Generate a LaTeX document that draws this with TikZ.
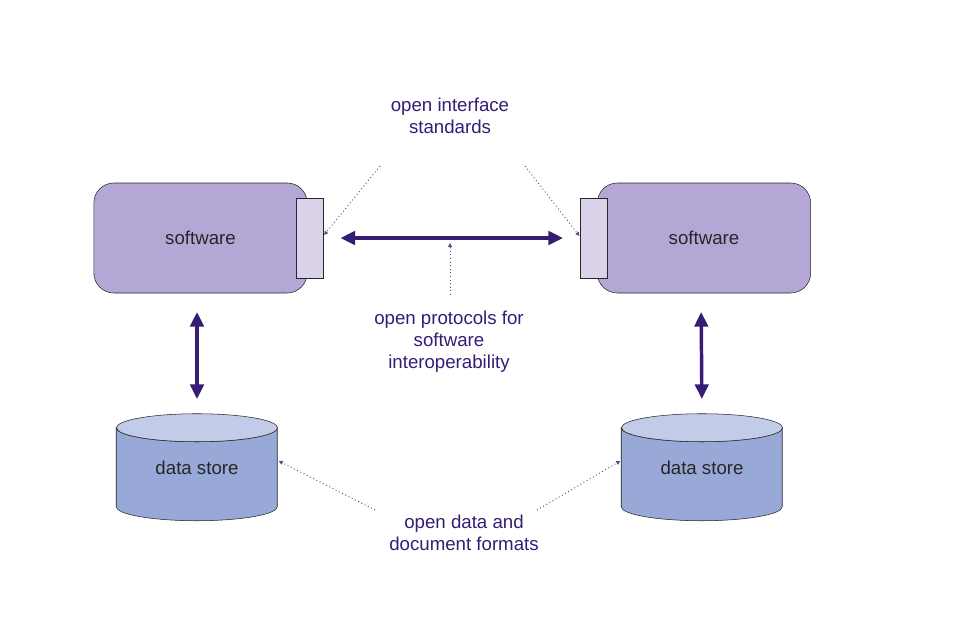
\documentclass[tikz,border=0pt]{standalone}
\usepackage{fontspec}
\setmainfont{Liberation Sans}
\usepackage{tikz}
\usetikzlibrary{shapes,arrows.meta,calc}
\definecolor{softfill}{HTML}{B4A7D6}
\definecolor{portfill}{HTML}{D9D2E9}
\definecolor{storebody}{HTML}{98A9D7}
\definecolor{storetop}{HTML}{C2CBE8}
\definecolor{linkcol}{HTML}{351C75}
\definecolor{notecol}{HTML}{5A4C8C}

\begin{document}
\begin{tikzpicture}[x=0.75pt,y=-0.75pt,
		every node/.style={font=\fontsize{14}{16.5}\selectfont},
		software/.style={draw=black!85,fill=softfill,rounded corners=15pt,minimum width=160pt,minimum height=82.5pt,text=black!85},
		port/.style={draw=black!85,fill=portfill,minimum width=20pt,minimum height=60pt},
		store/.style={minimum width=120.75pt,minimum height=80.25pt,text=black!85},
		note/.style={text=linkcol,align=center},
		link/.style={linkcol,line width=2.6pt,{Triangle[length=11pt,width=10pt]}-{Triangle[length=11pt,width=10pt]}},
		pointer/.style={notecol,dotted,line width=0.7pt,-{Triangle[length=3pt,width=3pt]}}]
			\useasboundingbox (0,0) rectangle (960,640);
			% software and interfaces
			\node[software] (sw1) at (200.5,238) {software};
			\node[software] (sw2) at (704,238) {software};
			\node[port] (if1) at (309.5,238) {};
			\node[port] (if2) at (594,238) {};
			% data stores
			\node[store] (ds1) at (197,467.5) {};
			\node[store] (ds2) at (702,467.5) {};
			\foreach \s in {ds1,ds2}{
				\filldraw[draw=black!85,fill=storebody] (\s.north west) ++(0,14) -- ++(0,79) arc[start angle=180,end angle=360,x radius=60.375pt,y radius=10.5pt] -- ++(0,-79) arc[start angle=0,end angle=-180,x radius=60.375pt,y radius=10.5pt] -- cycle;
				\filldraw[draw=black!85,fill=storetop] (\s.north) ++(0,14) ellipse[x radius=60.375pt,y radius=10.5pt];
			}
			\node[text=black!85] (ds1txt) at (ds1) {data store};
			\node[text=black!85] (ds2txt) at (ds2) {data store};
			% labels
			\node[note] (standards) at (450,116) {open interface\\standards};
			\node[note] (protocols) at (449,342) {open protocols for\\software\\interoperability};
			\node[note] (formats) at (464,533) {open data and\\document formats};
			% links
			\draw[link,shorten <=13pt,shorten >=13pt] (if1.east) -- (if2.west);
			\draw[link,shorten <=14pt,shorten >=11pt] (sw1.south -| 197,0) -- (ds1.north);
			\draw[link,shorten <=14pt,shorten >=11pt] (sw2.south -| 701,0) -- (ds2.north);
			% pointers
			\coordinate (std1) at (380,166);
			\coordinate (std2) at (525,166);
			\coordinate (pro) at (450,295);
			\coordinate (protip) at (450,243);
			\coordinate (fmt1) at (375,510);
			\coordinate (fmt2) at (537,510);
			\draw[pointer] (std1) -- ($(if1.east)+(1,-3)$);
			\draw[pointer] (std2) -- ($(if2.west)+(-1,-2)$);
			\draw[pointer] (pro) -- (protip);
			\draw[pointer] (fmt1) -- ($(ds1.east)+(1,-6.5)$);
			\draw[pointer] (fmt2) -- ($(ds2.west)+(-1,-6.5)$);
		\end{tikzpicture}
\end{document}
